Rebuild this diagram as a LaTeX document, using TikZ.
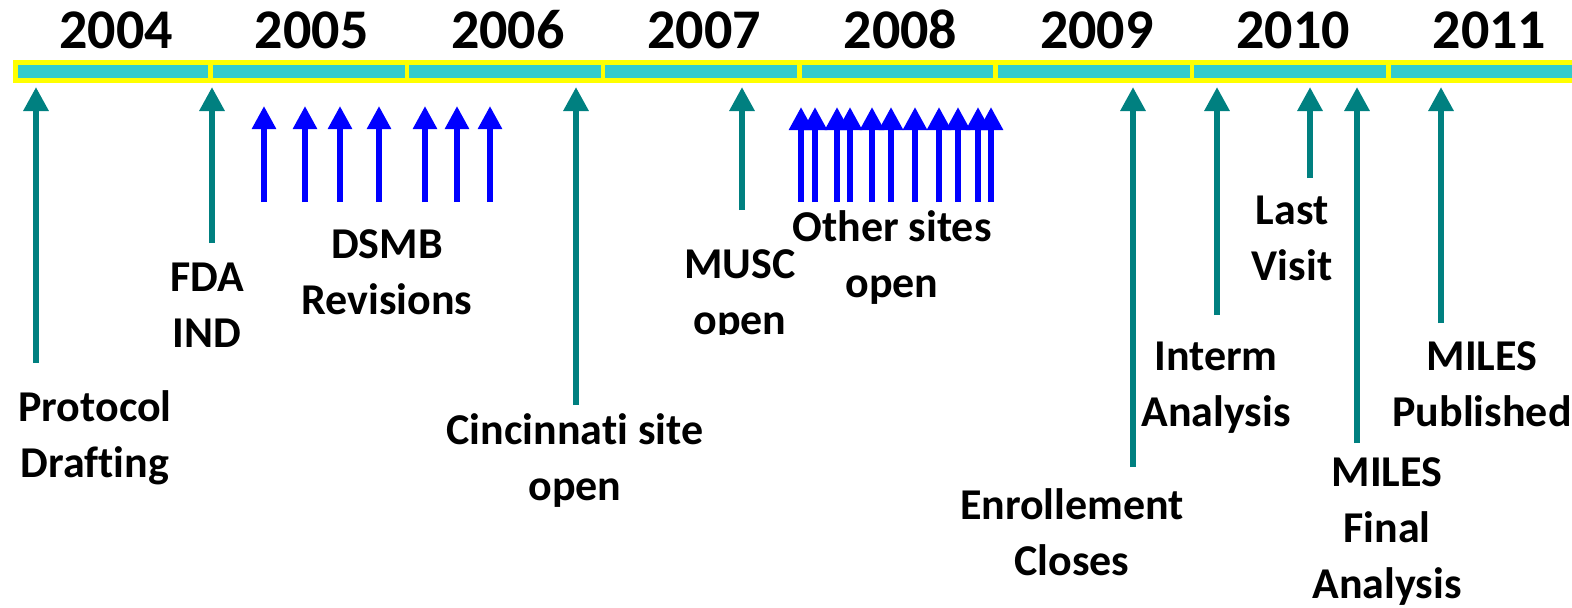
\documentclass[tikz,border=0pt]{standalone}
\usepackage{fontspec}
\setmainfont{Carlito}[Ligatures=NoCommon]
\usetikzlibrary{arrows.meta}

\definecolor{barfill}{HTML}{33CCCC}
\definecolor{barline}{HTML}{FFFF00}
\definecolor{milecol}{HTML}{008080}
\definecolor{revcol}{HTML}{0000FF}

\tikzset{
  yearbar/.style={fill=barfill, draw=barline, line width=2.25pt},
  milestone/.style={draw=milecol, line width=3pt, -{Triangle[width=12pt,length=12pt]}},
  revision/.style={draw=revcol, line width=2.8pt, -{Triangle[width=11.5pt,length=11.5pt]}},
  lbl/.style={font=\fontsize{22}{28}\selectfont\bfseries, align=center, anchor=base, inner sep=0pt},
  yearlbl/.style={font=\fontsize{28}{34}\selectfont\bfseries, anchor=base, inner sep=0pt}
}

\begin{document}
\begin{tikzpicture}[x=0.5pt,y=-0.5pt]
     \useasboundingbox (0,0) rectangle (1572,607);
     \def\w{196.3}
     % year bar
     \draw[yearbar] (15.5,62.5) rectangle (210.5,80.5);
     \node[yearlbl] (y2004) at (116,48) {2004};
     \foreach \yr [count=\i] in {2005,2006,2007,2008,2009,2010,2011} {
       \draw[yearbar] ({210.5+(\i-1)*\w},62.5) rectangle ({210.5+\i*\w},80.5);
       \node[yearlbl] (y\yr) at ({210.5+(\i-0.5)*\w+3},48) {\yr};
     }
     % milestones
     \foreach \name/\x/\tail in {protocol/36/363, fda/212/243, cincinnati/576/405,
         musc/742/210, enroll/1133/467, interm/1217/315, last/1310/178,
         final/1357/443, published/1441/323} {
       \coordinate (\name-tail) at (\x,\tail);
       \coordinate (\name-tip) at (\x,87);
       \draw[milestone] (\name-tail) -- (\name-tip);
     }
     % DSMB revisions
     \foreach \x [count=\i] in {264,305,340,379,425,457,490} {
       \coordinate (dsmb\i-tail) at (\x,202);
       \coordinate (dsmb\i-tip) at (\x,106);
       \draw[revision] (dsmb\i-tail) -- (dsmb\i-tip);
     }
     % other sites opening
     \foreach \x [count=\i] in {801,815,837,850,872,891,915,939,958,978,991} {
       \coordinate (site\i-tail) at (\x,202);
       \coordinate (site\i-tip) at (\x,107);
       \draw[revision] (site\i-tail) -- (site\i-tip);
     }
     % labels (anchored at the baseline of the last line)
     \node[lbl] (protocol) at (95,477) {Protocol\\Drafting};
     \node[lbl] (fda) at (207,347) {FDA\\IND};
     \node[lbl] (dsmb) at (387,314) {DSMB\\Revisions};
     \node[lbl] (cincinnati) at (575,500) {Cincinnati site\\open};
     \begin{scope}
       \clip (660,200) rectangle (820,334);
       \node[lbl] (musc) at (740,334) {MUSC\\open};
     \end{scope}
     \node[lbl] (other) at (892,297) {Other sites\\open};
     \node[lbl] (enroll) at (1072,575) {Enrollement\\Closes};
     \node[lbl] (interm) at (1216,426) {Interm\\Analysis};
     \node[lbl] (last) at (1292,280) {Last\\Visit};
     \node[lbl] (final) at (1387,598) {MILES\\Final\\Analysis};
     \node[lbl] (published) at (1482,426) {MILES\\Published};
    \end{tikzpicture}
\end{document}
